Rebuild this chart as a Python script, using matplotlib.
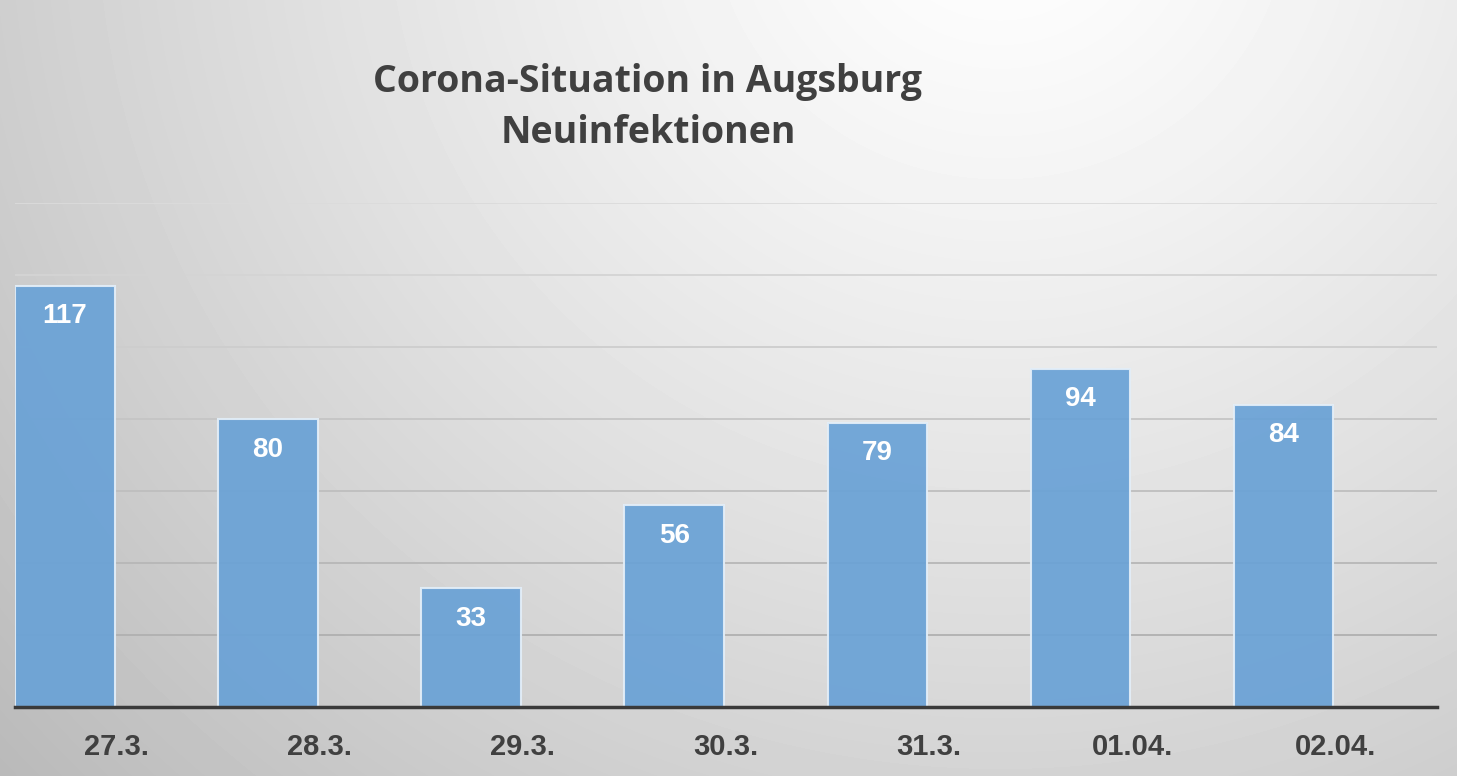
import numpy as np
import matplotlib.pyplot as plt

# Neuinfektionen pro Tag
days = ['27.3.', '28.3.', '29.3.', '30.3.', '31.3.', '01.04.', '02.04.']
cases = [117, 80, 33, 56, 79, 94, 84]
y_ticks = [0, 20, 40, 60, 80, 100, 120, 140]

W, H = 1457, 776
fig = plt.figure(figsize=(W / 100, H / 100), dpi=100)

# radialer Hintergrund (hell oben, grau an den Raendern)
bg = fig.add_axes([0, 0, 1, 1])
bg.axis('off')
yy, xx = np.mgrid[0:H, 0:W]
d = np.sqrt(((xx - 1000) / 1300.0) ** 2 + ((yy + 100) / 1250.0) ** 2)
shade = np.clip(1.0 - 0.26 * d ** 1.2, 0, 1)
bg.imshow(shade, cmap='gray', vmin=0, vmax=1, aspect='auto', extent=[0, 1, 0, 1])
bg.set_xlim(0, 1)
bg.set_ylim(0, 1)

ax = fig.add_axes([15 / W, 69 / H, 1422 / W, 504 / H])
ax.patch.set_alpha(0)

x = np.arange(len(days))
bars = ax.bar(x, cases, width=0.49, align='edge', color='#6aa2d6', alpha=0.93,
              edgecolor='#e3eef8', linewidth=1.5, zorder=3)

ax.set_xlim(0, len(days))
ax.set_ylim(y_ticks[0], y_ticks[-1])
ax.set_yticks(y_ticks)
ax.set_yticklabels([])
ax.set_xticks(x + 0.5)
ax.set_xticklabels(days, fontsize=21, fontweight='bold', color='#404040',
                   family='Liberation Sans')
ax.tick_params(axis='both', length=0)
ax.tick_params(axis='x', pad=19)

ax.yaxis.grid(True, zorder=1)
ax.set_axisbelow(True)
for i, gl in enumerate(ax.get_ygridlines()):
    g = 0.86 - 0.2 * (len(y_ticks) - 1 - i) / (len(y_ticks) - 1)
    gl.set_color((g, g, g))
    gl.set_linewidth(1.3)

for s in ['top', 'left', 'right']:
    ax.spines[s].set_visible(False)
ax.spines['bottom'].set_color('#3a3a3a')
ax.spines['bottom'].set_linewidth(2.5)
ax.spines['bottom'].set_zorder(4)

for b, v in zip(bars, cases):
    ax.annotate(str(v), (b.get_x() + b.get_width() / 2, v), xytext=(0, -22),
                textcoords='offset points', ha='center', va='center',
                fontsize=20, fontweight='bold', color='white',
                family='Liberation Sans', zorder=5)

fig.text(648 / W, 1 - 82 / H, 'Corona-Situation in Augsburg', ha='center', va='center',
         fontsize=27, fontweight='bold', color='#404040', family='Open Sans')
fig.text(648 / W, 1 - 133 / H, 'Neuinfektionen', ha='center', va='center',
         fontsize=27, fontweight='bold', color='#404040', family='Open Sans')

fig.savefig('out.png', dpi=100)
